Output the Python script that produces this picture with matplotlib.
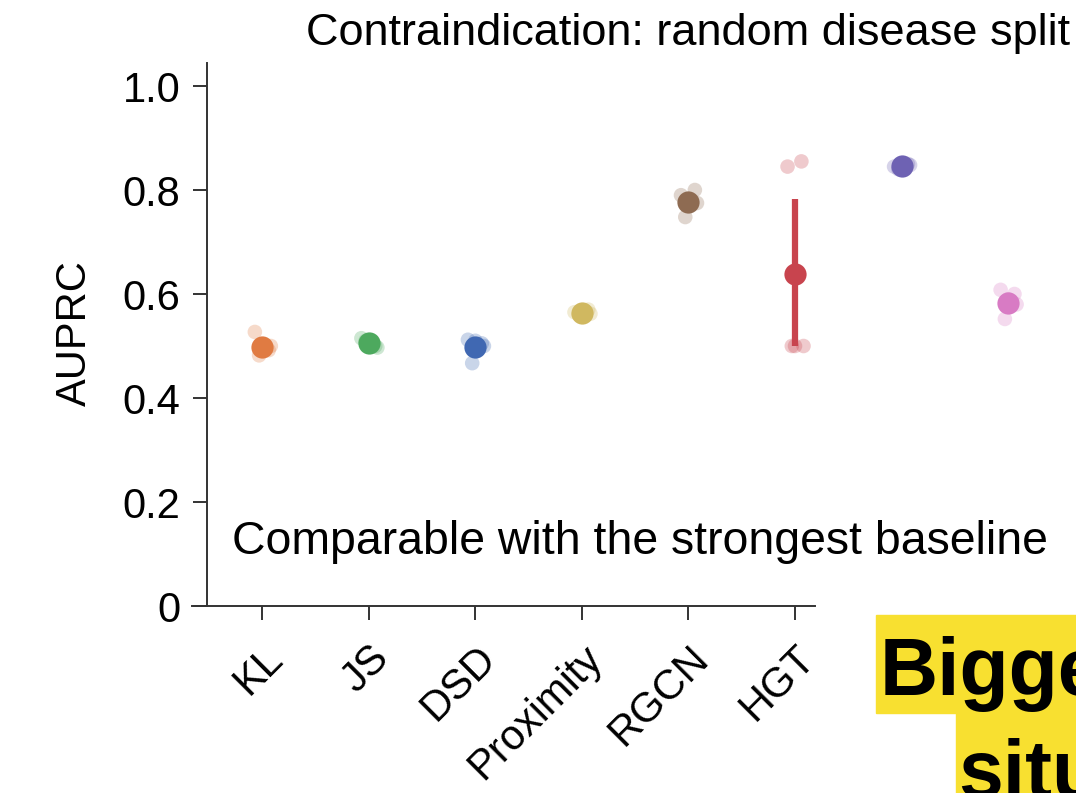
"""Contraindication AUPRC per method (random disease split)."""
import matplotlib
matplotlib.use("Agg")
import matplotlib.pyplot as plt
from matplotlib.patches import Rectangle

plt.rcParams["font.family"] = ["Liberation Sans", "DejaVu Sans"]

methods = ["KL", "JS", "DSD", "Proximity", "RGCN", "HGT", "M7", "M8"]
tick_labels = ["KL", "JS", "DSD", "Proximity", "RGCN", "HGT"]
means = [0.498, 0.506, 0.498, 0.563, 0.777, 0.638, 0.846, 0.583]
err_lo = [0.490, 0.502, 0.485, 0.560, 0.765, 0.500, 0.843, 0.565]
err_hi = [0.510, 0.512, 0.505, 0.567, 0.790, 0.783, 0.850, 0.600]
seeds = [
    [0.527, 0.492, 0.482, 0.500, 0.496],
    [0.515, 0.500, 0.510, 0.497, 0.508],
    [0.512, 0.505, 0.467, 0.500, 0.510],
    [0.565, 0.570, 0.560, 0.562, 0.566],
    [0.790, 0.800, 0.748, 0.775, 0.780],
    [0.845, 0.855, 0.500, 0.500, 0.500],
    [0.845, 0.850, 0.840, 0.848, 0.844],
    [0.608, 0.600, 0.552, 0.580, 0.590],
]
colors = ["#E07B42", "#4DA95E", "#4068B2", "#D0B860",
          "#8E6B52", "#C8444E", "#6E62B3", "#D87BC4"]
jitter = [-0.07, 0.06, -0.03, 0.08, 0.0]

fig = plt.figure(figsize=(10.76, 7.93), dpi=100)
ax = fig.add_axes([192 / 1076, 1 - 606 / 793, 880 / 1076, 546 / 793])

for i, (m, vals) in enumerate(zip(means, seeds)):
    ax.scatter([i + j for j in jitter], vals, s=110, color=colors[i],
               alpha=0.28, edgecolor="none", zorder=2)
    ax.vlines(i, err_lo[i], err_hi[i], color=colors[i], lw=4.5, zorder=3)
    ax.plot(i, m, "o", ms=16, color=colors[i], mec="none", zorder=4)

ax.set_xlim(-0.66, 7.6)
ax.set_ylim(0, 1.05)
for s in ["top", "right"]:
    ax.spines[s].set_visible(False)
ax.spines["left"].set_position(("data", -0.52))
ax.spines["left"].set_bounds(0, 1.045)
ax.spines["bottom"].set_bounds(-0.66, 5.19)
for s in ["left", "bottom"]:
    ax.spines[s].set_linewidth(1.4)
    ax.spines[s].set_color("#333333")

ax.set_yticks([0, 0.2, 0.4, 0.6, 0.8, 1.0])
ax.set_yticklabels(["0", "0.2", "0.4", "0.6", "0.8", "1.0"])
ax.set_xticks(range(len(tick_labels)))
ax.set_xticklabels(tick_labels, rotation=45, ha="right", va="top",
                   rotation_mode="anchor")
ax.tick_params(axis="both", labelsize=30, length=10, width=1.4,
               color="#333333", pad=9)
ax.tick_params(axis="x", pad=13)
ax.set_ylabel("AUPRC", fontsize=30, labelpad=20)

ax.text(-0.28, 0.123, "Comparable with the strongest baseline",
        fontsize=33.4, va="center", ha="left")
fig.text(1070 / 1076, 1 - 33 / 793, "Contraindication: random disease split",
         fontsize=32.5, ha="right", va="center")

# yellow highlight, cropped at the figure edge
yellow = "#F8E030"
fig.patches.append(Rectangle((876 / 1076, 1 - 713 / 793), 1, 98 / 793,
                             transform=fig.transFigure, color=yellow,
                             zorder=0))
fig.patches.append(Rectangle((956 / 1076, 0), 1, 80 / 793,
                             transform=fig.transFigure, color=yellow,
                             zorder=0))
fig.text(880 / 1076, 1 - 695 / 793, "Bigger", fontsize=58,
         fontweight="bold", ha="left", va="baseline")
fig.text(958 / 1076, 1 - 797 / 793, "situations", fontsize=58,
         fontweight="bold", ha="left", va="baseline")

fig.savefig("out.png", dpi=100)
